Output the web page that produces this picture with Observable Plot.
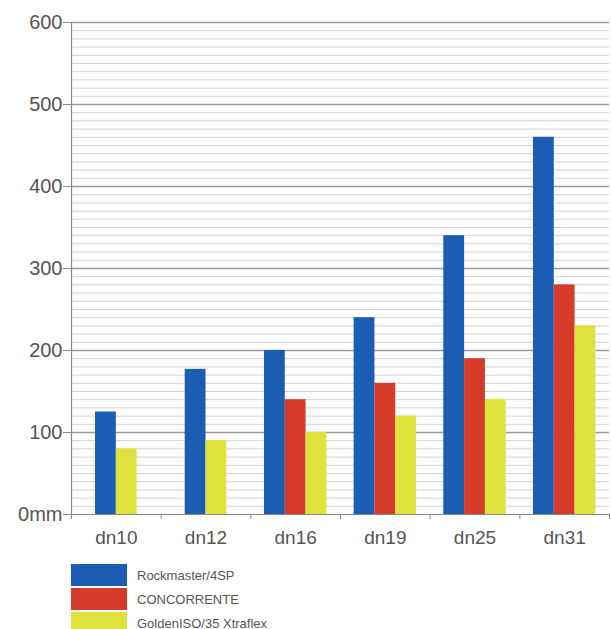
<!DOCTYPE html>
<html>
<head>
<meta charset="utf-8">
<script src="https://cdn.jsdelivr.net/npm/d3@7"></script>
<script src="https://cdn.jsdelivr.net/npm/@observablehq/plot@0.6"></script>
<style>
  html, body { margin: 0; padding: 0; background: #fff; }
  body { width: 611px; height: 629px; overflow: hidden; position: relative; font-family: "Liberation Sans", Arial, sans-serif; }
  #legend { position: absolute; left: 71px; top: 563px; }
  .row { display: flex; align-items: center; height: 24px; }
  .sw { width: 56px; height: 22px; margin-right: 10px; }
  .lab { font-size: 13px; color: #555; }
</style>
</head>
<body>
<div id="chart"></div>
<div id="legend"></div>
<script>
const categories = ["dn10", "dn12", "dn16", "dn19", "dn25", "dn31"];
const seriesNames = ["Rockmaster/4SP", "CONCORRENTE", "GoldenISO/35 Xtraflex"];
const rockmaster = [125, 177, 200, 240, 340, 460];
const concorrente = [null, null, 140, 160, 190, 280];
const golden = [80, 90, 100, 120, 140, 230];
const colors = ["#1b5db3", "#d63a2b", "#dfe23c"];
const yTicks = [0, 100, 200, 300, 400, 500, 600];

const seriesValues = [rockmaster, concorrente, golden];
const barW = 0.232;

// build bar table: bars of each category are centred in its band
const bars = [];
categories.forEach((cat, i) => {
  const present = seriesNames.map((s, k) => ({s, k, v: seriesValues[k][i]})).filter(d => d.v != null);
  const n = present.length;
  present.forEach((d, j) => {
    const x1 = i + 0.5 + (j - n / 2) * barW;
    bars.push({category: cat, series: d.s, value: d.v, x1, x2: x1 + barW});
  });
});

const minor = d3.range(10, 600, 10).filter(v => v % 100 !== 0);
const major = yTicks.slice(1);
const centers = categories.map((c, i) => i + 0.5);
const bounds = d3.range(0, categories.length + 1);

const chart = Plot.plot({
  width: 611,
  height: 560,
  marginLeft: 71,
  marginRight: 2,
  marginTop: 22,
  marginBottom: 46,
  style: {fontFamily: "'Liberation Sans', Arial, sans-serif", background: "#fff", color: "#555"},
  x: {type: "linear", domain: [0, categories.length], label: null},
  y: {domain: [0, 600], label: null},
  color: {domain: seriesNames, range: colors},
  marks: [
    Plot.ruleY(minor, {stroke: "#d2d2d2", strokeWidth: 1}),
    Plot.ruleY(major, {stroke: "#9a9a9a", strokeWidth: 1.5}),
    Plot.rectY(bars, {x1: "x1", x2: "x2", y: "value", fill: "series"}),
    Plot.ruleX([0], {stroke: "#8a8a8a", strokeWidth: 1.2}),
    Plot.ruleY([0], {stroke: "#8a8a8a", strokeWidth: 1.2}),
    Plot.axisY({ticks: yTicks, tickSize: 8, tickPadding: 1, fontSize: 20, stroke: "#8a8a8a", label: null,
      tickFormat: d => d === 0 ? "0mm" : String(d), fill: "#555"}),
    Plot.axisX({ticks: bounds, tickSize: 5, tickFormat: () => "", stroke: "#8a8a8a", label: null}),
    Plot.axisX({ticks: centers, tickSize: 0, tickPadding: 16, fontSize: 19, fill: "#555", label: null,
      tickFormat: d => categories[Math.round(d - 0.5)]})
  ]
});
document.getElementById("chart").appendChild(chart);

const legend = document.getElementById("legend");
seriesNames.forEach((s, k) => {
  const row = document.createElement("div");
  row.className = "row";
  row.innerHTML = `<div class="sw" style="background:${colors[k]}"></div><span class="lab">${s}</span>`;
  legend.appendChild(row);
});
</script>
</body>
</html>
